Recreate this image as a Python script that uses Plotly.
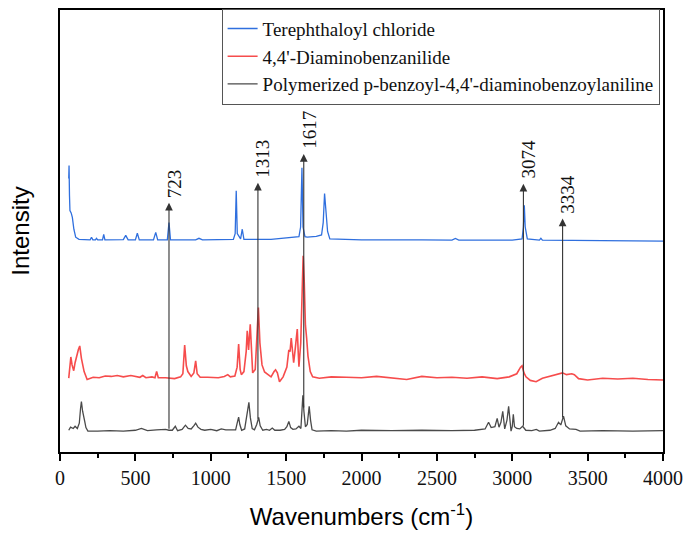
import numpy as np
import plotly.graph_objects as go

# Raman spectra (wavenumber in cm-1, relative intensity above each baseline)
wn_tc = [58, 60, 63, 66, 74, 82, 92, 104, 126, 160, 200, 209, 218, 235, 242, 250, 282, 290, 298,
         420, 436, 452, 500, 513, 526, 620, 635, 648, 712, 723, 733, 900, 922, 945, 1150, 1162,
         1169, 1176, 1198, 1209, 1220, 1400, 1585, 1596, 1605, 1612, 1625, 1640, 1700, 1735, 1746,
         1755, 1761, 1766, 1775, 1790, 2000, 2400, 2600, 2623, 2645, 3000, 3065, 3074, 3080, 3086,
         3100, 3180, 3190, 3200, 3600, 4000]
int_tc = [14.0, 16.9, 10.0, 6.7, 6.2, 5.2, 2.5, 0.7, 0.2, 0.1, 0.1, 0.7, 0.1, 0.1, 0.45, 0.1, 0.1, 1.35, 0.1,
          0.15, 1.12, 0.1, 0.1, 1.6, 0.1, 0.1, 1.8, 0.1, 0.1, 4.0, 0.1, 0.1, 0.45, 0.1, 0.2, 1.5,
          11.2, 1.5, 0.3, 2.5, 0.2, 0.2, 0.8, 3.0, 16.4, 3.0, 0.8, 0.7, 0.9, 1.2, 4.0,
          10.6, 7.5, 6.7, 2.0, 0.3, 0.1, 0.1, 0.05, 0.4, 0.05, 0.05, 0.3, 3.0, 7.9, 3.0,
          0.3, 0.05, 0.45, 0.05, -0.05, -0.2]

wn_dab = [58, 64, 72, 80, 91, 100, 109, 122, 131, 142, 160, 180, 220, 260, 300, 340, 380, 420, 470,
          500, 530, 549, 570, 610, 630, 641, 652, 700, 760, 800, 815, 827, 833, 838, 848, 870, 888,
          900, 910, 930, 980, 1050, 1090, 1113, 1130, 1160, 1175, 1185, 1195, 1203, 1220, 1235, 1242,
          1251, 1262, 1270, 1278, 1295, 1306, 1316, 1326, 1340, 1357, 1400, 1420, 1430, 1442, 1456,
          1480, 1505, 1518, 1526, 1534, 1542, 1550, 1560, 1574, 1580, 1585, 1597, 1606, 1613, 1620,
          1628, 1636, 1645, 1660, 1676, 1720, 1800, 1900, 2000, 2100, 2200, 2300, 2400, 2500, 2600,
          2700, 2800, 2900, 2980, 3030, 3055, 3065, 3078, 3091, 3120, 3158, 3200, 3280, 3333, 3360,
          3395, 3412, 3440, 3500, 3600, 3700, 3800, 3900, 4000]
int_dab = [0.0, 2.5, 4.8, 3.0, 1.7, 3.5, 4.9, 6.5, 7.3, 4.5, 1.5, -0.3, 0.2, 0.1, 0.5, 0.4, 0.6, 0.3, 0.6,
           0.4, 0.2, 0.6, 0.1, 0.3, 0.1, 1.5, 0.1, 0.1, -0.1, 0.3, 1.0, 7.5, 3.5, 2.8, 1.5, 0.4, 1.2,
           3.9, 1.0, 0.2, 0.2, 0.1, 0.4, 0.8, 0.3, 0.5, 2.5, 7.7, 2.0, 0.8, 1.5, 6.0, 10.7,
           6.4, 12.2, 5.0, 1.2, 2.0, 8.0, 16.0, 8.0, 3.0, 1.4, 0.3, 1.5, 1.9, 1.2, -0.8,
           0.3, 2.5, 6.4, 6.0, 9.1, 6.0, 3.5, 6.5, 11.1, 6.0, 2.6, 8.0, 20.0, 27.7, 22.0,
           12.0, 9.1, 5.0, 1.5, 0.3, 0.0, 0.3, 0.2, 0.1, 0.4, 0.0, -0.3, 0.4, 0.1, 0.2,
           0.0, 0.3, -0.1, 0.3, 1.0, 2.5, 2.8, 1.2, 0.3, -0.5, -0.8, 0.0, 0.7, 1.2, 0.8,
           1.0, 0.8, -0.1, -0.4, 0.0, -0.2, 0.0, -0.3, -0.4]

wn_poly = [58, 70, 88, 100, 115, 128, 136, 142, 150, 158, 164, 172, 185, 250, 330, 420, 500, 540, 580,
           640, 700, 723, 745, 765, 780, 810, 832, 850, 870, 890, 900, 915, 935, 960, 1000, 1040,
           1070, 1100, 1140, 1165, 1178, 1185, 1193, 1205, 1225, 1240, 1253, 1263, 1275, 1290, 1305,
           1318, 1328, 1345, 1370, 1390, 1408, 1425, 1460, 1490, 1505, 1518, 1530, 1545, 1565, 1585,
           1598, 1604, 1611, 1618, 1628, 1640, 1653, 1662, 1672, 1700, 1800, 1900, 2000, 2200, 2400,
           2600, 2750, 2820, 2843, 2860, 2885, 2900, 2912, 2925, 2937, 2950, 2965, 2976, 2992, 3000,
           3007, 3015, 3030, 3050, 3069, 3090, 3130, 3160, 3180, 3250, 3285, 3307, 3322, 3340, 3355,
           3380, 3423, 3450, 3600, 3800, 4000]
int_poly = [0.2, 0.9, 0.6, 1.1, 0.6, 1.8, 5.0, 6.7, 4.5, 2.5, 2.2, 0.8, 0.0, 0.0, 0.1, 0.0, 0.2, 0.6, 0.1,
            0.3, 0.4, 0.2, 0.2, 1.1, 0.1, 0.4, 1.35, 0.6, 0.5, 1.3, 1.8, 0.9, 0.4, 0.2, 0.4, 0.1,
            0.5, 0.3, 0.2, 0.3, 2.2, 3.15, 1.5, 0.2, 0.5, 3.5, 6.5, 3.0, 0.6, 0.3, 1.5,
            3.1, 1.2, 0.2, 0.4, 0.2, 0.7, 0.2, 0.2, 0.4, 1.0, 2.2, 0.8, 0.4, 0.5, 1.1,
            0.6, 4.0, 8.1, 4.5, 1.0, 1.5, 5.6, 2.5, 0.3, 0.0, 0.1, 0.0, 0.2, 0.1, 0.2,
            0.1, 0.2, 0.5, 2.0, 0.8, 1.0, 2.9, 0.9, 2.0, 4.5, 0.5, 2.5, 5.6, 0.0, 1.0,
            3.8, 1.0, 0.6, 0.5, 1.1, 0.2, 0.1, 0.4, 0.0, 0.2, 0.6, 2.0, 1.4, 3.4, 1.2,
            0.5, 0.4, 0.0, 0.1, 0.0, 0.1]

series_names = ["Terephthaloyl chloride", "4,4'-Diaminobenzanilide",
                "Polymerized p-benzoyl-4,4'-diaminobenzoylaniline"]
marked_peaks = [723, 1313, 1617, 3074, 3334]

# vertical stacking of the three spectra
offsets = [47.9, 16.7, 4.72]
colors = ["#2f6fde", "rgba(245,45,45,0.85)", "#4a4a4a"]
widths = [1.3, 1.6, 1.3]

fig = go.Figure()
for name, wn, inten, off, c, w in zip(series_names, [wn_tc, wn_dab, wn_poly],
                                       [int_tc, int_dab, int_poly], offsets, colors, widths):
    fig.add_trace(go.Scatter(x=wn, y=np.array(inten) + off, mode="lines", name=name,
                             line=dict(color=c, width=w)))

# arrows from the polymer spectrum up past the top spectrum, labelled with the band position
arrow_tops = [56.4, 60.9, 67.4, 60.7, 52.8]
poly_y = np.array(int_poly) + offsets[2]
for v, top in zip(marked_peaks, arrow_tops):
    tail = float(np.interp(v, wn_poly, poly_y))
    fig.add_annotation(x=v, y=top, ax=v, ay=tail, axref="x", ayref="y", xref="x", yref="y",
                       text="", showarrow=True, arrowhead=2, arrowsize=1.4, arrowwidth=1.1,
                       arrowcolor="#333333", standoff=0, startstandoff=0)
    fig.add_annotation(x=v, y=top, xref="x", yref="y", text=str(v), showarrow=False,
                       textangle=-90, yanchor="bottom", xanchor="center", xshift=5, yshift=3,
                       font=dict(family="Liberation Serif", size=19, color="#111111"))

fig.update_layout(
    width=691, height=534,
    margin=dict(l=60, r=26, t=8, b=81),
    paper_bgcolor="white", plot_bgcolor="white",
    showlegend=True,
    legend=dict(x=0.268, y=1.003, xanchor="left", yanchor="top",
                bgcolor="white", bordercolor="#555555", borderwidth=1,
                font=dict(family="Liberation Serif", size=19, color="#111111"),
                tracegroupgap=0),
    xaxis=dict(range=[0, 4000], dtick=500, tick0=0, showgrid=False, zeroline=False,
               showline=True, linecolor="black", linewidth=2, mirror=True,
               ticks="outside", ticklen=7, tickwidth=1.5, tickcolor="black",
               minor=dict(dtick=250, ticks="outside", ticklen=4, tickcolor="black", tickwidth=1.5),
               tickfont=dict(family="Liberation Serif", size=20, color="#111111"),
               title=dict(text="Wavenumbers (cm<sup>-1</sup>)", standoff=20,
                          font=dict(family="Liberation Sans", size=24, color="black"))),
    yaxis=dict(range=[0, 100], showgrid=False, zeroline=False, showticklabels=False,
               ticks="", showline=True, linecolor="black", linewidth=2, mirror=True,
               title=dict(text="Intensity", standoff=22,
                          font=dict(family="Liberation Sans", size=24, color="black"))),
)

fig.write_html("out.html")
